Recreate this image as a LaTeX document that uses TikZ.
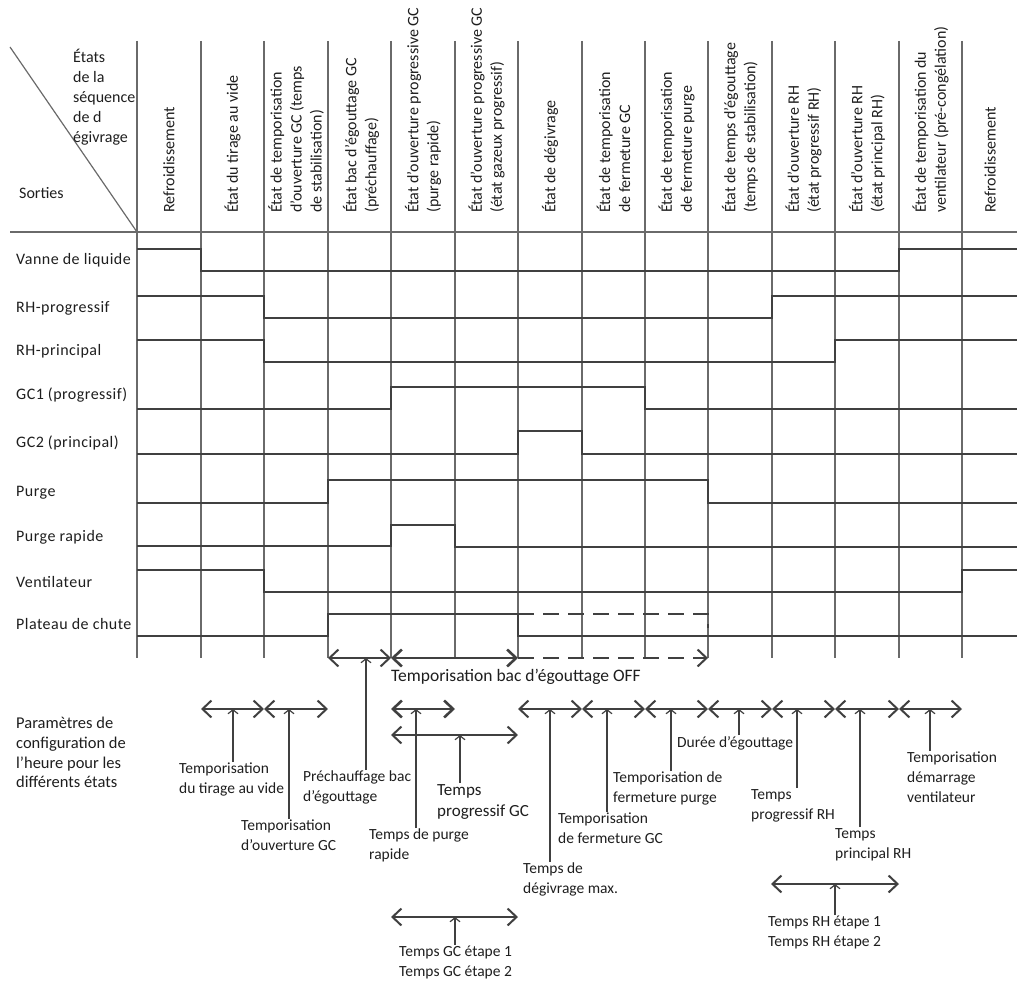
\documentclass[tikz,border=0pt]{standalone}
\usepackage{fontspec}
\setmainfont{Carlito}
\usetikzlibrary{arrows.meta}
\definecolor{gridgray}{HTML}{6A6A6A}
\definecolor{siggray}{HTML}{404040}
\definecolor{txtgray}{HTML}{1E1E1E}
\tikzstyle{gridline} = [line width=1.2pt, draw=gridgray]
\tikzstyle{sigline} = [line width=2pt, draw=siggray]
\tikzstyle{spanarrow} = [line width=2pt, draw=siggray, {Straight Barb[length=9pt,width=17pt]}-{Straight Barb[length=9pt,width=17pt]}]
\tikzstyle{ptr} = [line width=1.2pt, draw=siggray, -{Straight Barb[length=4pt,width=10pt]}]
\tikzstyle{rowlbl} = [anchor=west, inner sep=0pt, font=\fontsize{16}{20}\selectfont\addfontfeature{LetterSpace=3}]
\tikzstyle{collbl} = [rotate=90, anchor=west, inner sep=0pt, align=left, font=\fontsize{16}{20}\selectfont]
\tikzstyle{note} = [anchor=north west, inner sep=1pt, align=left]

\begin{document}
\begin{tikzpicture}[x=1pt, y=-1pt, every node/.style={font=\fontsize{15.5}{20}\selectfont, text=txtgray}]
	\useasboundingbox (0,0) rectangle (1017,987);
	% en-tete
	\foreach \x in {137,201,264,328,391,455,518,582,645,708,772,835,899,962}
		\draw[gridline] (\x,41) -- (\x,658);
	\draw[gridline, line width=2pt] (137,41) -- (137,658);
	\draw[gridline, line width=2pt] (10,232) -- (1017,232);
	\draw[gridline] (10,47) -- (137,232);
	\node (etats) [note, font=\fontsize{16}{20}\selectfont] at (72,48) {États\\de la\\séquence\\de d\\égivrage};
	\node (sorties) [rowlbl, font=\fontsize{16}{20}\selectfont] at (19,193) {Sorties};
	\node (c1) [collbl] at (169,213) {Refroidissement};
	\node (c2) [collbl] at (232.5,213) {État du tirage au vide};
	\node (c3) [collbl] at (296,213) {État de temporisation\\d'ouverture GC (temps\\de stabilisation)};
	\node (c4) [collbl] at (361,213) {État bac d'égouttage GC\\(préchauffage)};
	\node (c5) [collbl] at (423,213) {État d'ouverture progressive GC\\(purge rapide)};
	\node (c6) [collbl] at (486.5,213) {État d'ouverture progressive GC\\(état gazeux progressif)};
	\node (c7) [collbl] at (550,213) {État de dégivrage};
	\node (c8) [collbl] at (613.5,213) {État de temporisation\\de fermeture GC};
	\node (c9) [collbl] at (676.5,213) {État de temporisation\\de fermeture purge};
	\node (c10) [collbl] at (740,213) {État de temps d'égouttage\\(temps de stabilisation)};
	\node (c11) [collbl] at (803.5,213) {État d'ouverture RH\\(état progressif RH)};
	\node (c12) [collbl] at (867,213) {État d'ouverture RH\\(état principal RH)};
	\node (c13) [collbl] at (930.5,213) {État de temporisation du\\ventilateur (pré-congélation)};
	\node (c14) [collbl] at (990,213) {Refroidissement};
	% sorties
	\node (vanne) [rowlbl] at (16,260) {Vanne de liquide};
	\node (rhprog) [rowlbl] at (16,308) {RH-progressif};
	\node (rhprinc) [rowlbl] at (16,351) {RH-principal};
	\node (gcun) [rowlbl] at (16,395) {GC1 (progressif)};
	\node (gcdeux) [rowlbl] at (16,443) {GC2 (principal)};
	\node (purge) [rowlbl] at (16,493) {Purge};
	\node (purgerap) [rowlbl] at (16,537) {Purge rapide};
	\node (ventil) [rowlbl] at (16,582) {Ventilateur};
	\node (plateau) [rowlbl] at (16,624) {Plateau de chute};
	\draw[sigline] (137,249) -| (201,271) -| (899,249) -- (1017,249);
	\draw[sigline] (137,296) -| (264,318) -| (772,296) -- (1017,296);
	\draw[sigline] (137,340) -| (264,362) -| (835,340) -- (1017,340);
	\draw[sigline] (137,409) -| (391,387) -| (645,409) -- (1017,409);
	\draw[sigline] (137,454) -| (518,431) -| (582,454) -- (1017,454);
	\draw[sigline] (137,503) -| (328,480) -| (708,503) -- (1017,503);
	\draw[sigline] (137,546) -| (391,525) -| (455,547) -- (1017,547);
	\draw[sigline] (137,570) -| (264,592) -| (962,570) -- (1017,570);
	\draw[sigline] (137,636) -| (328,614) -| (518,636) -- (1017,636);
	\draw[sigline, dash pattern=on 16pt off 9pt] (518,614) -- (708,614) -- (708,628);
	% temporisation bac
	\draw[spanarrow] (328,658) -- (391,658);
	\draw[spanarrow, line width=2.6pt] (391,658) -- (518,658);
	\draw[sigline, dash pattern=on 16pt off 9pt, -{Straight Barb[length=9pt,width=17pt]}] (518,658) -- (708,658);
	\node (bacoff) [anchor=west, inner sep=0pt, font=\fontsize{17.5}{20}\selectfont] at (391,677) {Temporisation bac d'égouttage OFF};
	% parametres
	\node (param) [note, font=\fontsize{16.5}{19.7}\selectfont] at (15,716) {Paramètres de\\configuration de\\l'heure pour les\\différents états};
	\draw[spanarrow] (201,709) -- (264,709);
	\draw[spanarrow] (264,709) -- (328,709);
	\draw[spanarrow, line width=2.6pt] (391,709) -- (455,709);
	\draw[spanarrow] (391,735) -- (518,735);
	\foreach \a/\b in {518/582,582/645,645/708,708/772,772/835,835/899,899/962}
		\draw[spanarrow] (\a,709) -- (\b,709);
	\draw[spanarrow] (391,917) -- (518,917);
	\draw[spanarrow] (771,884) -- (899,884);
	\coordinate (p1) at (233,709);
	\coordinate (p2) at (289,709);
	\coordinate (p3) at (366,658);
	\coordinate (p4) at (416,709);
	\coordinate (p5) at (460,735);
	\coordinate (p6) at (550,709);
	\coordinate (p7) at (607,709);
	\coordinate (p8) at (671,709);
	\coordinate (p9) at (739,709);
	\coordinate (p10) at (797,709);
	\coordinate (p11) at (860,709);
	\coordinate (p12) at (930,709);
	\coordinate (p13) at (455,917);
	\coordinate (p14) at (835,884);
	\node (l1) [note] at (178,762) {Temporisation\\du tirage au vide};
	\node (l2) [note] at (240,819) {Temporisation\\d'ouverture GC};
	\node (l3) [note] at (302,770) {Préchauffage bac\\d'égouttage};
	\node (l4) [note] at (368,828) {Temps de purge\\rapide};
	\node (l5) [note, font=\fontsize{17}{21}\selectfont] at (436,783) {Temps\\progressif GC};
	\node (l6) [note] at (522,862) {Temps de\\dégivrage max.};
	\node (l7) [note] at (557,812) {Temporisation\\de fermeture GC};
	\node (l8) [note] at (612,771) {Temporisation de\\fermeture purge};
	\node (l9) [note] at (676,735) {Durée d’égouttage};
	\node (l10) [note] at (750,788) {Temps\\progressif RH};
	\node (l11) [note] at (834,827) {Temps\\principal RH};
	\node (l12) [note] at (906,751) {Temporisation\\démarrage\\ventilateur};
	\node (l13) [note] at (398,945) {Temps GC étape 1\\Temps GC étape 2};
	\node (l14) [note] at (767,915) {Temps RH étape 1\\Temps RH étape 2};
	\draw[ptr] (l1.north -| p1) -- (p1);
	\draw[ptr] (l2.north -| p2) -- (p2);
	\draw[ptr] (l3.north -| p3) -- (p3);
	\draw[ptr] (l4.north -| p4) -- (p4);
	\draw[ptr] (l5.north -| p5) -- (p5);
	\draw[ptr] (l6.north -| p6) -- (p6);
	\draw[ptr] (l7.north -| p7) -- (p7);
	\draw[ptr] (l8.north -| p8) -- (p8);
	\draw[ptr] (l9.north -| p9) -- (p9);
	\draw[ptr] (l10.north -| p10) -- (p10);
	\draw[ptr] (l11.north -| p11) -- (p11);
	\draw[ptr] (l12.north -| p12) -- (p12);
	\draw[ptr] (l13.north -| p13) -- (p13);
	\draw[ptr] (l14.north -| p14) -- (p14);
\end{tikzpicture}
\end{document}
